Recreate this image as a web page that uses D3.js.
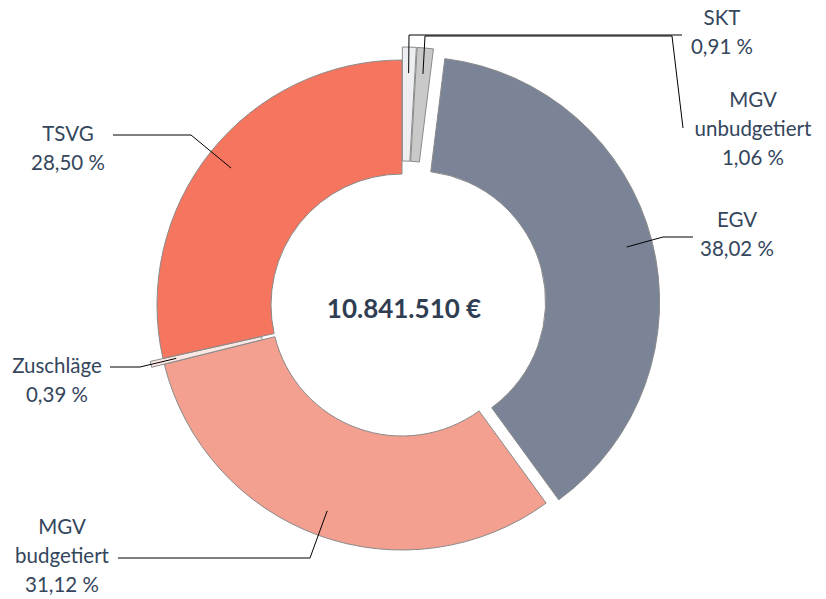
<!DOCTYPE html>
<html>
<head>
<meta charset="utf-8">
<script src="https://cdn.jsdelivr.net/npm/d3@7"></script>
<style>
  body { margin: 0; background: #fff; }
  svg { display: block; font-family: Lato, "Open Sans", sans-serif; }
</style>
</head>
<body>
<svg></svg>
<script>
var width = 826;
var height = 599;

// data, clockwise from 12 o'clock
var categories = ['SKT', 'MGV unbudgetiert', 'EGV', 'MGV budgetiert', 'Zuschläge', 'TSVG'];
var values = [0.91, 1.06, 38.02, 31.12, 0.39, 28.50];
var labelLines = [['SKT'], ['MGV', 'unbudgetiert'], ['EGV'], ['MGV', 'budgetiert'], ['Zuschläge'], ['TSVG']];
var exploded = [true, true, true, false, true, false];
var total = '10.841.510 €';

var colors = ['#eceef1', '#c9c9c9', '#7b8497', '#f4a090', '#fce8e4', '#f5755e'];

// label placement: text centre x, first line centre y, leader line points from label side
var labelLayout = [
  {x: 722, y: 18, line: [[682, 35], [409, 35]]},
  {x: 753, y: 100, line: [[683, 128], [672, 36], [425, 36]]},
  {x: 737, y: 220, line: [[693, 237], [663, 237]]},
  {x: 62, y: 527, line: [[118, 558], [310, 558]]},
  {x: 57, y: 366, line: [[110, 367], [140, 367]]},
  {x: 68, y: 134, line: [[113, 135], [191, 135]]}
];

var cx = 402, cy = 305;
var outerR = 245, innerR = 131, anchorR = 219, offset = 13;

var svg = d3.select('svg')
  .attr('width', width)
  .attr('height', height);

var pie = d3.pie().sort(null).value(d => d.value);
var arc = d3.arc().innerRadius(innerR).outerRadius(outerR);

var data = categories.map((c, i) => ({name: c, value: values[i], i: i}));
var arcs = pie(data);

var g = svg.append('g').attr('transform', 'translate(' + cx + ',' + cy + ')');

function shift(d) {
  var a = (d.startAngle + d.endAngle) / 2;
  var o = exploded[d.data.i] ? offset : 0;
  return [Math.sin(a) * o, -Math.cos(a) * o];
}

g.selectAll('path')
  .data(arcs)
  .enter()
  .append('path')
    .attr('d', arc)
    .attr('transform', d => 'translate(' + shift(d) + ')')
    .attr('fill', d => colors[d.data.i])
    .attr('stroke', '#8a8a8a')
    .attr('stroke-width', 1);

// leader lines
arcs.forEach(function(d) {
  var a = (d.startAngle + d.endAngle) / 2;
  var s = shift(d);
  var ax = cx + s[0] + Math.sin(a) * anchorR;
  var ay = cy + s[1] - Math.cos(a) * anchorR;
  var pts = labelLayout[d.data.i].line.concat([[ax, ay]]);
  svg.append('path')
    .attr('d', d3.line()(pts))
    .attr('fill', 'none')
    .attr('stroke', '#000')
    .attr('stroke-width', 1);
});

// labels
arcs.forEach(function(d) {
  var lay = labelLayout[d.data.i];
  var lines = labelLines[d.data.i].concat([d3.format('.2f')(d.data.value).replace('.', ',') + ' %']);
  var t = svg.append('text')
    .attr('text-anchor', 'middle')
    .attr('fill', '#34465c')
    .style('font-size', '20.5px');
  lines.forEach(function(l, k) {
    t.append('tspan')
      .attr('x', lay.x)
      .attr('y', lay.y + k * 28.7)
      .attr('dy', '0.35em')
      .text(l);
  });
});

svg.append('text')
  .attr('x', cx + 2)
  .attr('y', cy + 4)
  .attr('dy', '0.35em')
  .attr('text-anchor', 'middle')
  .attr('fill', '#2f3e52')
  .style('font-size', '26px')
  .style('font-weight', 'bold')
  .text(total);
</script>
</body>
</html>
